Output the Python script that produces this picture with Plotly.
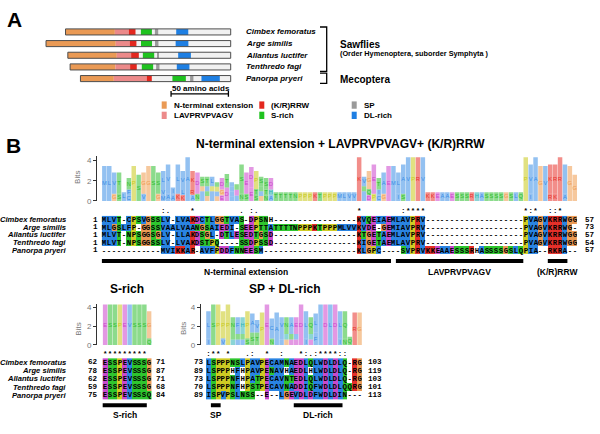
import math
from collections import Counter
import plotly.graph_objects as go

W, H = 600, 434
def fx(p): return p / W
def fy(p): return 1 - p / H

# ---------------- Panel A data (residue positions) ----------------
species = ["Cimbex femoratus", "Arge similis", "Allantus luctifer", "Tenthredo fagi", "Panorpa pryeri"]
protein_len = [144, 161, 142, 140, 131]
dom_nterm = [(0, 43.0), (0, 60.8), (0, 42.7), (0, 39.5), (0, 29.1)]
dom_lav   = [(43.0, 55.2), (60.8, 73.0), (42.7, 55.2), (39.5, 52.3), (29.1, 57.8)]
dom_krrw  = [(55.2, 61.0), (73.0, 78.8), (55.2, 61.9), (52.3, 58.1), (57.8, 62.2)]
dom_srich = [(65.7, 75.3), (82.8, 92.4), (65.4, 75.3), (62.5, 72.4), (80.2, 91.9)]
dom_sp    = [(77.9, 80.8), (95.0, 98.0), (77.9, 79.4), (75.0, 77.9), (95.6, 98.5)]
dom_dl    = [(96.5, 107.0), (113.0, 124.1), (96.2, 107.3), (93.0, 104.0), (105.5, 121.5)]
scale_bar_start = -52
scale_bar_len = 50
legend_items = [("N-terminal extension", "#EA9A55"), ("LAVPRVPVAGV", "#EC8A8A"),
                ("(K/R)RRW", "#E3271E"), ("S-rich", "#1FC21F"),
                ("SP", "#9A9A9A"), ("DL-rich", "#1E7FE3")]

# ---------------- Panel B data (alignments) ----------------
aln_nterm = [
    "MLVT-CPSVGSSLV-LVAKDCTLGGTVAS-DPSNH" + "-" * 17 + "KVQEIAEMLAVPRV" + "-" * 20 + "PVAGVKRRWGG",
    "MLGSLFP-GGSSVAALVAANGSAIEDI-SEEPTTA" + "TTTTNPPPKTPPPMLVV" + "KVDE-GEMIAVPRV" + "-" * 20 + "PVAGVKRRWG-",
    "MLVT-NPSGGSGLV-LLAKDSGL-DTLESEDTGSD" + "-" * 17 + "KTGETAEMLAVPRV" + "-" * 20 + "PVAGVKRRWGG",
    "MLVT-NPSGGSSLV-LVAKDSTPQ----SSDPSSD" + "-" * 17 + "KIGETAEMLAVPRV" + "-" * 20 + "PVAGVKRRWGG",
    "------------MVIKKAR-AVFPDDFNNEESM--" + "-" * 17 + "KLGPC----SVPRV" + "KKEAAESSSRHASSSSGSLQ" + "PIA--RKRA--",
]
start_nterm = [1, 1, 1, 1, 1]
end_nterm = [57, 73, 57, 54, 57]
cons_nterm = {13: ":", 14: ".", 19: "*", 29: ".", 31: ":", 32: ".", 53: "*", 62: ":", 63: "*",
              64: "*", 65: "*", 66: "*", 87: "*", 88: ":", 89: "*", 92: ":", 93: ":", 94: "*"}
bars_nterm = [(1, 59, "N-terminal extension"), (61, 86, "LAVPRVPVAGV"), (92, 95, "(K/R)RRW")]

aln_srich = ["ESSPEVSSSG", "ESSPEVSSSG", "ESSPEVSSSG", "ESSPEVSSSG", "ESSPEVSSSQ"]
start_srich = [62, 78, 62, 59, 75]
end_srich = [71, 87, 71, 68, 84]
cons_srich = {1: "*", 2: "*", 3: "*", 4: "*", 5: "*", 6: "*", 7: "*", 8: "*", 9: "*"}
bars_srich = [(1, 9, "S-rich")]

aln_spdl = [
    "LSPPPNSLPAVPECAMNAEDLQLWDLDLQ-RG",
    "LSPPPHFHPAVPENAVHAEDLHLWDLDLQ-RG",
    "LSPPPNFHPATPECAVNTEDLQLWDLDLQ-RG",
    "LSPPPNFHPSTPECAVNADDIQFWDLDLQQRG",
    "ISPVPSLNSS--E--LGEVDLDFWDLDIN---",
]
start_spdl = [73, 89, 73, 70, 89]
end_spdl = [103, 119, 103, 101, 113]
cons_spdl = {1: ":", 2: "*", 3: "*", 5: "*", 9: ".", 10: ":", 13: "*", 16: ":", 20: "*", 21: ":",
             22: ".", 23: ":", 24: "*", 25: "*", 26: "*", 27: "*", 28: ":", 29: ":"}
bars_spdl = [(2, 3, "SP"), (19, 28, "DL-rich")]

# ---------------- styles ----------------
SANS = "Liberation Sans"
MONO = "Liberation Mono"
res_class = {}
for a in "AILMFWVC": res_class[a] = 1
for a in "KR": res_class[a] = 2
for a in "DE": res_class[a] = 3
for a in "STNQ": res_class[a] = 4
res_class["G"] = 5
res_class["P"] = 6
cell_colors = ["#FFFFFF", "#2A84E2", "#E5302A", "#C94ACB", "#2EC62E", "#EA9A55", "#CFCB24", "#FFFFFF"]
logo_colors = ["#2BB3B3", "#3A8EE6", "#E8322A", "#CC44CC", "#2DBE2D", "#EE9A4D", "#C9C91A", "#2BB3B3"]

def rgba(hexc, a):
    h = hexc.lstrip("#")
    return "rgba(%d,%d,%d,%.2f)" % (int(h[0:2], 16), int(h[2:4], 16), int(h[4:6], 16), a)

cscale = []
for i, c in enumerate(cell_colors):
    cscale.append([i / 8, c])
    cscale.append([(i + 1) / 8, c])

fig = go.Figure()

def set_axes(n, xd, yd, xr, yr, ylogo=False):
    xs = "xaxis" if n == 1 else "xaxis%d" % n
    ys = "yaxis" if n == 1 else "yaxis%d" % n
    xa = "x" if n == 1 else "x%d" % n
    ya = "y" if n == 1 else "y%d" % n
    xdef = dict(domain=[fx(xd[0]), fx(xd[1])], range=xr, visible=False, anchor=ya, fixedrange=True)
    if ylogo:
        ydef = dict(domain=[fy(yd[1]), fy(yd[0])], range=yr, anchor=xa, fixedrange=True,
                    showline=True, linecolor="#333", linewidth=1, ticks="outside", ticklen=3,
                    tickcolor="#333", tickvals=[0, 2, 4], tickfont=dict(size=8, color="#777", family=SANS),
                    showgrid=False, zeroline=False)
    else:
        ydef = dict(domain=[fy(yd[1]), fy(yd[0])], range=yr, visible=False, anchor=xa, fixedrange=True)
    fig.update_layout(**{xs: xdef, ys: ydef})

annotations = []
shapes = []

def ann(x, y, text, size=8, xanchor="center", yanchor="middle", color="black", xref="paper", yref="paper",
        family=SANS, angle=0):
    annotations.append(dict(x=x, y=y, xref=xref, yref=yref, text=text, showarrow=False,
                            xanchor=xanchor, yanchor=yanchor, textangle=angle,
                            font=dict(size=size, color=color, family=family)))

# ================= Panel A =================
# x: residues relative to C-terminus ; 1.147 px per residue, C-term at px 230.7
set_axes(1, (40, 240), (24, 100), [(40 - 230.7) / 1.147, (240 - 230.7) / 1.147],
         [(100 - 32.3) / 11.8, (24 - 32.3) / 11.8])
rows = list(range(5))

def hbar(ranges, color, line_w=0, line_c="#4d4d4d"):
    fig.add_trace(go.Bar(orientation="h", y=rows, x=[e - s for s, e in ranges],
                         base=[s - L for (s, e), L in zip(ranges, protein_len)], width=0.52,
                         marker=dict(color=color, line=dict(width=line_w, color=line_c)),
                         xaxis="x", yaxis="y", hoverinfo="skip", showlegend=False))

full = [(0, L) for L in protein_len]
hbar(full, "#F1F1F1")
for rng, (lab, col) in zip([dom_nterm, dom_lav, dom_krrw, dom_srich, dom_sp, dom_dl], legend_items):
    hbar(rng, col)
hbar(full, "rgba(0,0,0,0)", line_w=1)

sb_y = (95 - 32.3) / 11.8
fig.add_trace(go.Scatter(x=[scale_bar_start, scale_bar_start + scale_bar_len, None,
                            scale_bar_start, scale_bar_start, None,
                            scale_bar_start + scale_bar_len, scale_bar_start + scale_bar_len],
                         y=[sb_y, sb_y, None, sb_y - 0.25, sb_y + 0.25, None, sb_y - 0.25, sb_y + 0.25],
                         mode="lines", line=dict(color="black", width=1.3), xaxis="x", yaxis="y",
                         hoverinfo="skip", showlegend=False, cliponaxis=False))
ann(fx(200.5), fy(89.5), "<b>50 amino acids</b>", size=8)

for i, sp in enumerate(species):
    ann(fx(244), i, "<b><i>%s</i></b>" % sp, size=8, xanchor="left", yref="y")

# brackets
for top, bot in [(27.3, 72.3), (74.0, 84.3)]:
    shapes.append(dict(type="path", xref="paper", yref="paper",
                       path="M %f %f L %f %f L %f %f L %f %f" % (fx(320), fy(top), fx(326.7), fy(top),
                                                                fx(326.7), fy(bot), fx(320), fy(bot)),
                       line=dict(color="black", width=1.3)))
ann(fx(338), fy(45), "<b>Sawflies</b>", size=10, xanchor="left")
ann(fx(338), fy(54.5), "<b>(Order Hymenoptera, suborder Symphyta )</b>", size=7.3, xanchor="left")
ann(fx(338), fy(80), "<b>Mecoptera</b>", size=10, xanchor="left")

# legend
leg_pos = [(161.7, 106.3), (161.7, 116.7), (259.3, 106.3), (259.3, 116.7), (351.7, 106.3), (351.7, 116.7)]
for (lab, col), (lx, ly) in zip(legend_items, leg_pos):
    shapes.append(dict(type="rect", xref="paper", yref="paper", x0=fx(lx), x1=fx(lx + 5),
                       y0=fy(ly + 3.7), y1=fy(ly - 3.7), fillcolor=col, line=dict(width=0)))
    ann(fx(lx + 10), fy(ly), "<b>%s</b>" % lab, size=8, xanchor="left")

ann(fx(14), fy(19.5), "<b>A</b>", size=21)
ann(fx(13.5), fy(147.5), "<b>B</b>", size=21)

# ================= Panel B =================
def logo_stacks(seqs):
    n = len(seqs)
    out = []
    for j in range(len(seqs[0])):
        col = [s[j] for s in seqs if s[j] != "-"]
        if not col:
            out.append([])
            continue
        c = Counter(col)
        m = len(col)
        hs = -sum((k / m) * math.log2(k / m) for k in c.values())
        r = (math.log2(20) - hs) * m / n
        out.append(sorted(((k / m) * r, a) for a, k in c.items()))
    return out

def add_logo(n, seqs):
    xs, hs, bs, cols, txt, tcol = [], [], [], [], [], []
    for j, st in enumerate(logo_stacks(seqs)):
        base = 0.0
        for h, a in st:
            cl = res_class.get(a, 0)
            xs.append(j + 1); hs.append(h); bs.append(base)
            cols.append(rgba(logo_colors[cl], 0.55)); txt.append(a); tcol.append(logo_colors[cl])
            base += h
    fig.add_trace(go.Bar(x=xs, y=hs, base=bs, width=0.92, marker=dict(color=cols, line=dict(width=0)),
                         text=txt, textposition="inside", insidetextanchor="middle", textangle=0,
                         textfont=dict(color=tcol, size=9, family=SANS), constraintext="inside",
                         xaxis="x%d" % n, yaxis="y%d" % n, hoverinfo="skip", showlegend=False))

def add_alignment(n, seqs, cons, bars, cons_y, bar_y, label_py, starts, ends, start_px, end_px,
                  names_px=68.3):
    L = len(seqs[0])
    xa, ya = "x%d" % n, "y%d" % n
    z = [[res_class.get(ch, 0) for ch in s] for s in seqs]
    fig.add_trace(go.Heatmap(z=z, x=list(range(1, L + 1)), y=list(range(len(seqs))),
                             text=[list(s) for s in seqs], texttemplate="%{text}",
                             textfont=dict(family=MONO, size=7.4, color="black", weight="bold"),
                             colorscale=cscale, zmin=-0.5, zmax=7.5, showscale=False,
                             hoverinfo="skip", xaxis=xa, yaxis=ya))
    cx = sorted(cons)
    fig.add_trace(go.Scatter(x=cx, y=[cons_y] * len(cx), text=[cons[c] for c in cx], mode="text",
                             textfont=dict(family=MONO, size=7.4, color="black", weight="bold"),
                             cliponaxis=False, xaxis=xa, yaxis=ya, hoverinfo="skip", showlegend=False))
    for a, b, lab in bars:
        fig.add_trace(go.Scatter(x=[a - 0.5, b + 0.5], y=[bar_y, bar_y], mode="lines",
                                 line=dict(color="black", width=4), cliponaxis=False,
                                 xaxis=xa, yaxis=ya, hoverinfo="skip", showlegend=False))
        annotations.append(dict(x=(a + b) / 2, y=fy(label_py), xref=xa, yref="paper",
                                text="<b>%s</b>" % lab, showarrow=False, xanchor="center",
                                yanchor="middle", font=dict(size=8.5, family=SANS, color="black")))
    for i in range(len(seqs)):
        ann(fx(start_px), i, "<b>%d</b>" % starts[i], size=7.6, family=MONO, yref=ya)
        ann(fx(end_px), i, "<b>%d</b>" % ends[i], size=7.6, family=MONO, yref=ya)
        if names_px is not None:
            ann(fx(names_px), i, "<b><i>%s</i></b>" % species[i], size=7.6, xanchor="right", yref=ya)

# --- N-terminal block ---
ann(fx(340), fy(145.5), "<b>N-terminal extension + LAVPRVPVAGV+ (K/R)RRW</b>", size=12)
set_axes(2, (97, 577.2), (203.3 - 4.4 * 10.25, 203.3), [-0.5, 97.5], [0, 4.4], ylogo=True)
add_logo(2, aln_nterm)
ann(fx(78), fy(180), "Bits", size=8, color="#777", angle=-90)

r1 = 7.68
set_axes(3, (97, 577.2), (209, 268), [-0.5, 97.5], [(268 - 222.3) / r1, (209 - 222.3) / r1])
add_alignment(3, aln_nterm, cons_nterm, bars_nterm, (214 - 222.3) / r1, (264 - 222.3) / r1, 275,
              start_nterm, end_nterm, 95, 590)

# --- S-rich block ---
ann(fx(126.7), fy(292.5), "<b>S-rich</b>", size=12)
set_axes(4, (97, 151.7), (349 - 4.4 * 9.5, 349), [-0.66, 10.5], [0, 4.4], ylogo=True)
add_logo(4, aln_srich)
ann(fx(79), fy(332.5), "Bits", size=8, color="#777", angle=-90)

r2 = 8.33
set_axes(5, (97, 151.7), (354, 414), [-0.66, 10.5], [(414 - 366.7) / r2, (354 - 366.7) / r2])
add_alignment(5, aln_srich, cons_srich, bars_srich, (358.5 - 366.7) / r2, (410 - 366.7) / r2, 419.5,
              start_srich, end_srich, 93, 161)

# --- SP + DL-rich block ---
ann(fx(284), fy(292.5), "<b>SP + DL-rich</b>", size=12)
set_axes(6, (200.7, 362), (349 - 4.4 * 9.5, 349), [-0.59, 32.5], [0, 4.4], ylogo=True)
add_logo(6, aln_spdl)
ann(fx(183.3), fy(332.5), "Bits", size=8, color="#777", angle=-90)

set_axes(7, (200.7, 362), (354, 414), [-0.59, 32.5], [(414 - 366.7) / r2, (354 - 366.7) / r2])
add_alignment(7, aln_spdl, cons_spdl, bars_spdl, (358.5 - 366.7) / r2, (410 - 366.7) / r2, 419.5,
              start_spdl, end_spdl, 199, 375, names_px=None)

fig.update_layout(width=W, height=H, margin=dict(l=0, r=0, t=0, b=0), paper_bgcolor="white",
                  plot_bgcolor="rgba(0,0,0,0)", barmode="overlay", showlegend=False,
                  annotations=annotations, shapes=shapes, hovermode=False,
                  uniformtext=dict(minsize=5, mode="hide"), font=dict(family=SANS))
fig.write_html("out.html", config={"displayModeBar": False},
               post_script="document.body.style.margin='0';document.body.style.overflow='hidden';")
